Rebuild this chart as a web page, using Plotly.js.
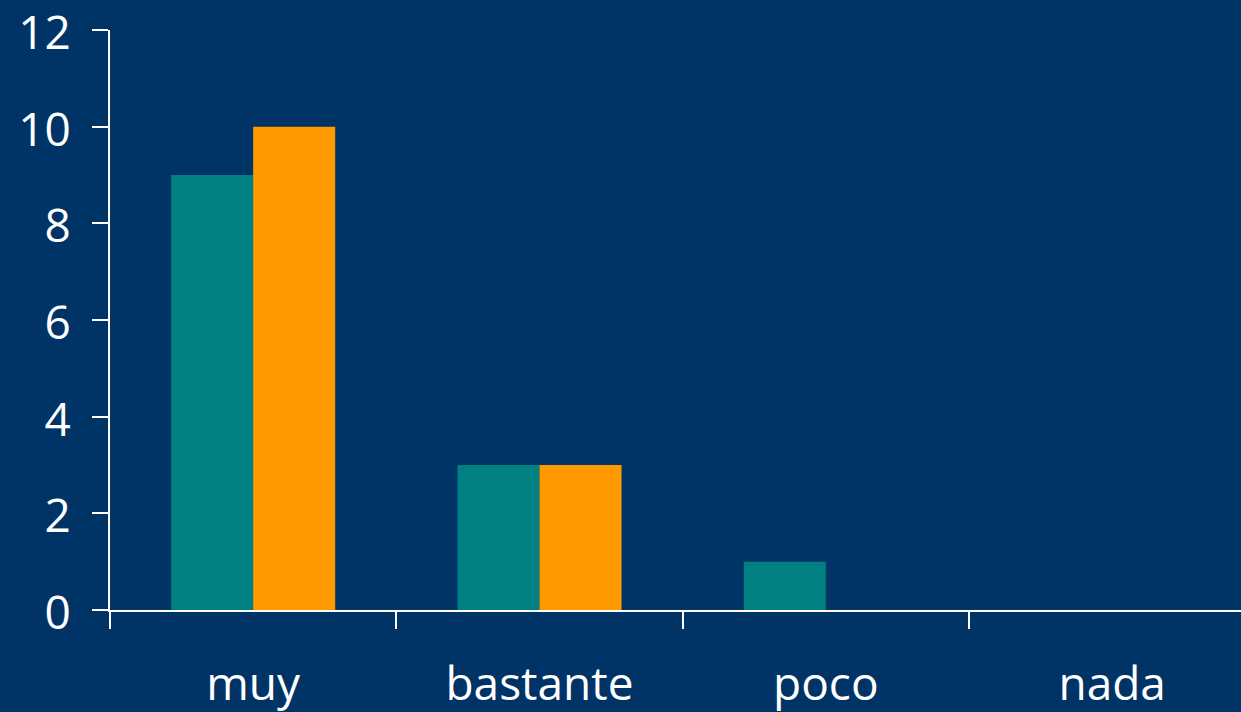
<!DOCTYPE html>
<html>
<head>
<meta charset="utf-8">
<script src="https://cdn.plot.ly/plotly-3.0.1.min.js"></script>
<style>html,body{margin:0;padding:0;background:#003366;overflow:hidden;}#chart{width:1241px;height:712px;}</style>
</head>
<body>
<div id="chart"></div>
<script>
const categories = ["muy", "bastante", "poco", "nada"];
const seriesA = [9, 3, 1, 0];
const seriesB = [10, 3, 0, 0];
const yTicks = [0, 2, 4, 6, 8, 10, 12];

const font = {family: "Open Sans, Liberation Sans, sans-serif", size: 46, color: "#ffffff"};

const traces = [
  {type: "bar", x: categories, y: seriesA, name: "A", marker: {color: "#008080"}},
  {type: "bar", x: categories, y: seriesB, name: "B", marker: {color: "#FF9900"}}
];

const layout = {
  width: 1241, height: 712,
  paper_bgcolor: "#003366", plot_bgcolor: "#003366",
  margin: {l: 110, r: 0, t: 30, b: 102, pad: 0},
  showlegend: false,
  barmode: "group", bargap: 0.427, bargroupgap: 0,
  font: font,
  xaxis: {
    type: "category", range: [-0.5, 3.45], tickson: "boundaries",
    ticks: "outside", ticklen: 17, tickwidth: 2, tickcolor: "#ffffff",
    showline: true, linecolor: "#ffffff", linewidth: 2,
    showgrid: false, zeroline: false, tickfont: font, ticklabelstandoff: 33,
    ticklabeloverflow: "allow"
  },
  yaxis: {
    range: [0, 12], tickvals: yTicks, ticktext: yTicks.map(String),
    ticks: "outside", ticklen: 16, tickwidth: 2, tickcolor: "#ffffff",
    showline: true, linecolor: "#ffffff", linewidth: 2,
    showgrid: false, zeroline: false, tickfont: font, ticklabelstandoff: 12,
    ticklabeloverflow: "allow", ticklabelshift: 3
  }
};

Plotly.newPlot("chart", traces, layout, {displayModeBar: false, staticPlot: true});
</script>
</body>
</html>
